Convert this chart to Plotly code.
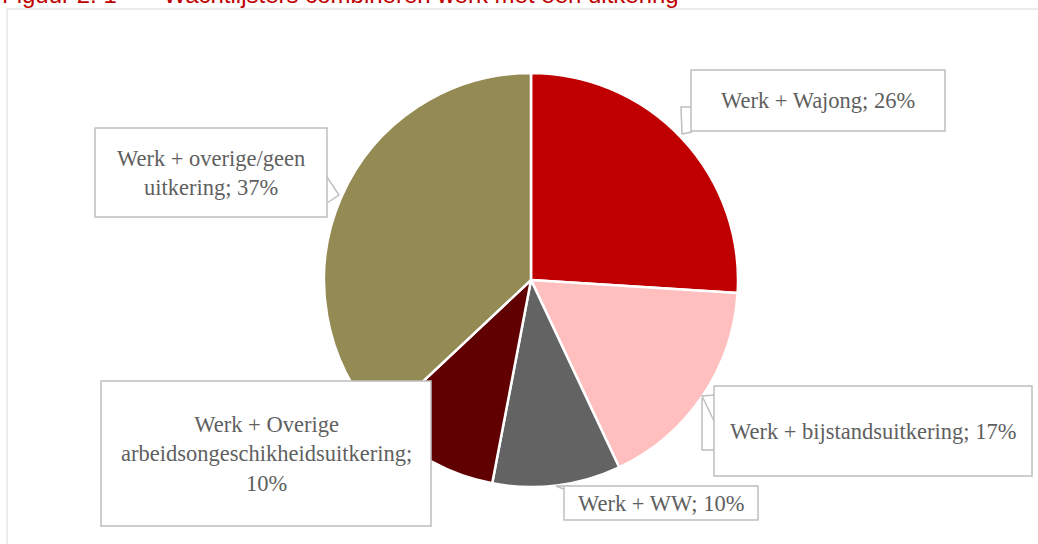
import plotly.graph_objects as go

W, H = 1038, 544

categories = [
    "Werk + Wajong",
    "Werk + bijstandsuitkering",
    "Werk + WW",
    "Werk + Overige arbeidsongeschikheidsuitkering",
    "Werk + overige/geen uitkering",
]
values = [26, 17, 10, 10, 37]
label_lines = [
    ["Werk + Wajong; {v}%"],
    ["Werk + bijstandsuitkering; {v}%"],
    ["Werk + WW; {v}%"],
    ["Werk + Overige", "arbeidsongeschikheidsuitkering;", "{v}%"],
    ["Werk + overige/geen", "uitkering; {v}%"],
]
colors = ["#C00000", "#FFBFBF", "#636363", "#600000", "#948A54"]
title_text = "Figuur 2. 1" + "\u00a0" * 7 + "Wachtlijsters combineren werk met een uitkering"

# label box geometry in pixels (x0, y0, x1, y1)
boxes = [
    (691, 70, 945, 131),
    (714, 386, 1032, 476),
    (564, 486, 758, 520),
    (101, 381, 431, 526),
    (95, 128, 327, 217),
]


def px(x):
    return x / W


def py(y):
    return 1 - y / H


cx, cy, r = 531, 280, 207

fig = go.Figure()
fig.add_trace(go.Pie(
    labels=categories,
    values=values,
    sort=False,
    direction="clockwise",
    rotation=0,
    marker=dict(colors=colors, line=dict(color="white", width=2.5)),
    textinfo="none",
    hoverinfo="label+percent",
    showlegend=False,
    domain=dict(x=[px(cx - r), px(cx + r)], y=[py(cy + r), py(cy - r)]),
))

shapes = []
annotations = []
border = "#BFBFBF"

# outer chart frame
shapes.append(dict(type="rect", xref="paper", yref="paper",
                   x0=px(7), y0=py(549), x1=px(1042), y1=py(9),
                   line=dict(color="#D9D9D9", width=1), fillcolor="rgba(0,0,0,0)"))


def path(points):
    s = "M " + " L ".join(f"{px(x)},{py(y)}" for x, y in points)
    return dict(type="path", xref="paper", yref="paper", path=s,
                line=dict(color=border, width=1.5), layer="above")


pointer_paths = [
    [(691, 107), (681, 107), (682, 134), (692, 132)],
    [(715, 395), (702, 396), (715, 423)],
    [(702, 398), (702, 450), (714, 450)],
    [(566, 490), (556, 486), (571, 486)],
    [(327, 177), (339, 195), (327, 203)],
]
for pts in pointer_paths:
    shapes.append(path(pts))

for (x0, y0, x1, y1), lines, v in zip(boxes, label_lines, values):
    shapes.append(dict(type="rect", xref="paper", yref="paper",
                       x0=px(x0), y0=py(y1), x1=px(x1), y1=py(y0),
                       line=dict(color=border, width=1.5), fillcolor="white", layer="above"))
    text = "<br>".join(l.format(v=v) for l in lines)
    annotations.append(dict(x=px((x0 + x1) / 2), y=py((y0 + y1) / 2), xref="paper", yref="paper",
                            text=text, showarrow=False, xanchor="center", yanchor="middle",
                            align="center",
                            font=dict(family="Liberation Serif", size=22.5, color="#5F5F5F")))

annotations.append(dict(x=0, y=py(-5), xref="paper", yref="paper", text=title_text,
                        showarrow=False, xanchor="left", yanchor="middle",
                        font=dict(family="Liberation Sans", size=24, color="#C00000")))

fig.update_layout(
    width=W, height=H,
    margin=dict(l=0, r=0, t=0, b=0),
    paper_bgcolor="white",
    plot_bgcolor="white",
    shapes=shapes,
    annotations=annotations,
)

fig.write_html("out.html", config={"displayModeBar": False},
               post_script="document.body.style.margin='0';")
